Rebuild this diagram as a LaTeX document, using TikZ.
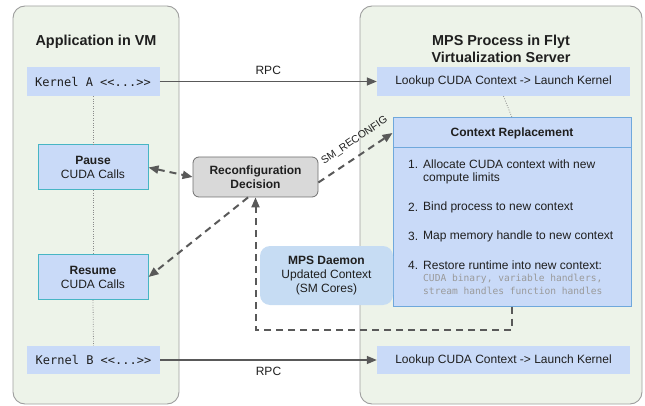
\documentclass[tikz,border=0pt]{standalone}
\usepackage{fontspec}
\setmainfont{Liberation Sans}
\setmonofont{DejaVu Sans Mono}
\usetikzlibrary{arrows.meta,calc}
\definecolor{panelfill}{HTML}{EDF3E9}
\definecolor{panelborder}{HTML}{9E9E9E}
\definecolor{boxfill}{HTML}{C9DAF8}
\definecolor{daemonfill}{HTML}{C6DCF3}
\definecolor{tealborder}{HTML}{47B5C4}
\definecolor{crborder}{HTML}{6FA8DC}
\definecolor{decfill}{HTML}{D9D9D9}
\definecolor{decborder}{HTML}{707070}
\definecolor{arrowgray}{HTML}{595959}
\definecolor{dotgray}{HTML}{8A8A8A}
\definecolor{monogray}{HTML}{9A9A9A}
\definecolor{txt}{HTML}{1F1F1F}
\newcommand{\bodyfont}{\fontsize{12}{14}\selectfont}
\begin{document}
\begin{tikzpicture}[x=1pt,y=-1pt,
  every node/.style={text=txt},
  panel/.style={draw=panelborder, fill=panelfill, rounded corners=12pt, line width=0.9pt, inner sep=0pt},
  titlenode/.style={font=\fontsize{14.4}{17}\selectfont\bfseries, align=center, inner sep=0pt},
  codebox/.style={fill=boxfill, draw=none, inner sep=0pt, font=\fontsize{12}{14}\selectfont\ttfamily},
  lookbox/.style={fill=boxfill, draw=none, inner sep=0pt, font=\bodyfont},
  callbox/.style={fill=boxfill, draw=tealborder, line width=1pt, inner sep=0pt, align=center, font=\bodyfont,
    minimum width=110pt, minimum height=45pt},
  decbox/.style={fill=decfill, draw=decborder, line width=0.8pt, rounded corners=6pt, inner sep=0pt, align=center,
    font=\bodyfont\bfseries, minimum width=125pt, minimum height=40pt},
  crbox/.style={fill=boxfill, draw=crborder, line width=1pt, inner sep=0pt},
  daemonbox/.style={fill=daemonfill, draw=none, rounded corners=10pt, inner sep=0pt, align=center, font=\bodyfont,
    minimum width=133pt, minimum height=59pt},
  itemtxt/.style={anchor=west, inner sep=0pt, font=\bodyfont},
  monotxt/.style={anchor=west, inner sep=0pt, text=monogray, font=\fontsize{9.6}{11}\selectfont\ttfamily},
  conn/.style={draw=arrowgray, line width=1.5pt, -{Triangle[length=10pt,width=8pt]}},
  dconn/.style={draw=arrowgray, line width=2pt, dash pattern=on 7pt off 5pt},
  dotline/.style={draw=dotgray, line width=0.8pt, dash pattern=on 0.8pt off 1.6pt},
  lbl/.style={inner sep=0pt, font=\bodyfont}
]
\useasboundingbox (0,0) rectangle (645,406);

% panels
\node[panel, minimum width=166pt, minimum height=398pt] (lp) at (96,205) {};
\node[panel, minimum width=282pt, minimum height=398pt] (rp) at (501,205) {};

% titles
\node[titlenode] (lt) at (96,42) {Application in VM};
\node[titlenode] (rt) at (501,49) {MPS Process in Flyt\\Virtualization Server};

% left column boxes
\node[codebox, minimum width=133pt, minimum height=29pt] (ka) at (93,81.5) {Kernel A <<...>>};
\node[callbox] (pause) at (93,167.5) {\textbf{Pause}\\CUDA Calls};
\node[callbox] (resume) at (93,277) {\textbf{Resume}\\CUDA Calls};
\node[codebox, minimum width=133pt, minimum height=28pt] (kb) at (93.5,360) {Kernel B <<...>>};

% right lookup boxes
\node[lookbox, minimum width=253pt, minimum height=29pt] (lt1) at (503.5,81.5) {Lookup CUDA Context -> Launch Kernel};
\node[lookbox, minimum width=253pt, minimum height=28pt] (lt2) at (503.5,360) {Lookup CUDA Context -> Launch Kernel};

% dotted timelines
\draw[dotline] (ka.south) -- (pause.north);
\draw[dotline] (pause.south) -- (resume.north);
\draw[dotline] (resume.south) -- (kb.north);

% reconfiguration decision
\node[decbox] (rd) at (255.5,177) {Reconfiguration\\Decision};

% context replacement box and dashed feedback path
\node[crbox, minimum width=238pt, minimum height=188pt] (cr) at (512,212) {};
\draw[dconn, -{Triangle[length=10pt,width=8pt]}] (cr.south) -- ++(0,23) -| (rd.south);

% MPS daemon
\node[daemonbox] (md) at (326.5,275.5) {\textbf{MPS Daemon}\\Updated Context\\(SM Cores)};

\node[crbox, minimum width=238pt, minimum height=30pt, font=\bodyfont\bfseries] (crh) at (512,133) {Context Replacement};
\draw[dotline] (lt1.south) -- (crh.north);

% items
\node[itemtxt] (n1) at (408,164) {1.};
\node[itemtxt] (i1a) at (423,164) {Allocate CUDA context with new};
\node[itemtxt] (i1b) at (423,178) {compute limits};
\node[itemtxt] (n2) at (408,207) {2.};
\node[itemtxt] (i2) at (423,207) {Bind process to new context};
\node[itemtxt] (n3) at (408,236) {3.};
\node[itemtxt] (i3) at (423,236) {Map memory handle to new context};
\node[itemtxt] (n4) at (408,265) {4.};
\node[itemtxt] (i4) at (423,265) {Restore runtime into new context:};
\node[monotxt] (m1) at (423,279) {CUDA binary, variable handlers,};
\node[monotxt] (m2) at (423,290.5) {stream handles function handles};

% RPC arrows
\draw[conn] (ka.east) -- node[lbl, above=6pt] (rpc1) {RPC} (lt1.west);
\draw[conn] (kb.east) -- node[lbl, below=6pt] (rpc2) {RPC} (lt2.west);

% dashed arrows
\draw[dconn, {Triangle[length=10pt,width=8pt]}-{Triangle[length=10pt,width=8pt]}] (pause.east) -- (rd.west);
\draw[dconn, -{Triangle[length=10pt,width=8pt]}] (rd.250) -- (resume.east);
\draw[dconn, -{Triangle[length=10pt,width=8pt]}] (rd.-5) -- node[pos=0.6, sloped, above=9pt, inner sep=0pt, font=\fontsize{10.5}{12}\selectfont] (smr) {SM\_RECONFIG} (crh.west);
\end{tikzpicture}
\end{document}
